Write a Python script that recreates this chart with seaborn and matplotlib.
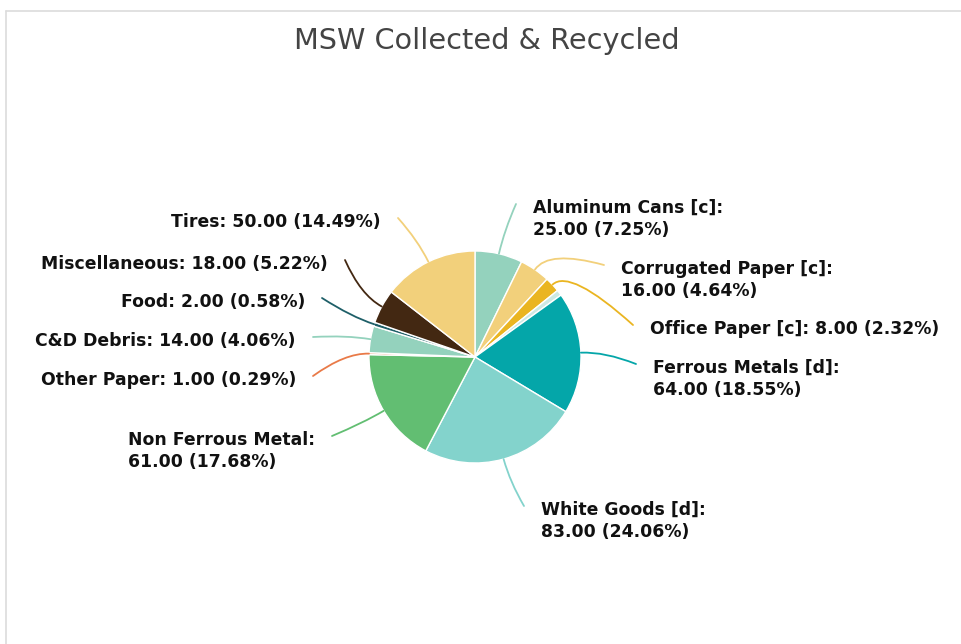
import numpy as np
import matplotlib
matplotlib.use("Agg")
import matplotlib.pyplot as plt
import seaborn as sns
from matplotlib.path import Path
from matplotlib.patches import PathPatch
from matplotlib.lines import Line2D

# ---- data ----
categories = ["Aluminum Cans [c]", "Corrugated Paper [c]", "Office Paper [c]", "",
              "Ferrous Metals [d]", "White Goods [d]", "Non Ferrous Metal",
              "Other Paper", "C&D Debris", "Food", "Miscellaneous", "Tires"]
values = [25, 16, 8, 3, 64, 83, 61, 1, 14, 2, 18, 50]
colors = ["#94d2bd", "#f2d07b", "#eab521", "#cde9e3", "#04a6a9", "#83d3cc",
          "#62be72", "#e97a48", "#94d2bd", "#1e5f68", "#432812", "#f2d07b"]
title = "MSW Collected & Recycled"

# ---- layout (pixels from top-left) ----
W, H = 962, 644
CX, CY, R = 475, 357, 106
# label: (x edge, y of first line center, side, two-line?)
label_layout = {
    "Aluminum Cans [c]": (533, 208, "L", True),
    "Corrugated Paper [c]": (621, 269, "L", True),
    "Office Paper [c]": (650, 329, "L", False),
    "Ferrous Metals [d]": (653, 368, "L", True),
    "White Goods [d]": (541, 510, "L", True),
    "Non Ferrous Metal": (315, 440, "R", True),
    "Other Paper": (296, 380, "R", False),
    "C&D Debris": (296, 341, "R", False),
    "Food": (305, 302, "R", False),
    "Miscellaneous": (328, 264, "R", False),
    "Tires": (381, 222, "R", False),
}
LINE_STEP = 22
FS = 12.4

sns.set_theme(style="white")
plt.rcParams["font.family"] = ["DejaVu Sans"]

fig = plt.figure(figsize=(W / 100, H / 100), dpi=100)
fig.patch.set_facecolor("white")
ax = fig.add_axes([0, 0, 1, 1])

# card border
fig.add_artist(Line2D([6 / W, 6 / W], [0, 1 - 11 / H], color="#dcdcdc", lw=1.2, transform=fig.transFigure))
fig.add_artist(Line2D([6 / W, 1], [1 - 11 / H, 1 - 11 / H], color="#dcdcdc", lw=1.2, transform=fig.transFigure))

wedges, _ = ax.pie(values, colors=colors, startangle=90, counterclock=False,
                   center=(CX, H - CY), radius=R,
                   wedgeprops=dict(edgecolor="white", linewidth=1.0))
ax.set_xlim(0, W)
ax.set_ylim(0, H)
ax.set_aspect("equal")
ax.axis("off")

total = sum(values)
for w, cat, val, col in zip(wedges, categories, values, colors):
    if not cat:
        continue
    mid = np.deg2rad((w.theta1 + w.theta2) / 2)
    ex, ey = CX + R * np.cos(mid), (H - CY) + R * np.sin(mid)
    cxp, cyp = CX + (R + 24) * np.cos(mid), (H - CY) + (R + 24) * np.sin(mid)
    tx, ty, side, two = label_layout[cat]
    pct = 100 * val / total
    if two:
        txt = f"{cat}:\n{val:.2f} ({pct:.2f}%)"
    else:
        txt = f"{cat}: {val:.2f} ({pct:.2f}%)"
    lx = tx - 17 if side == "L" else tx + 17
    ly = H - (ty - 4)
    path = Path([(ex, ey), (cxp, cyp), (lx, ly)], [Path.MOVETO, Path.CURVE3, Path.CURVE3])
    ax.add_patch(PathPatch(path, fill=False, edgecolor=col, lw=1.3, capstyle="round"))
    yc = H - (ty + (LINE_STEP / 2 if two else 0))
    ax.text(tx, yc, txt, ha="left" if side == "L" else "right", va="center",
            multialignment="left", fontsize=FS, fontweight="bold", color="#111111",
            linespacing=1.25)

fig.text(487 / W, 1 - 41 / H, title, ha="center", va="center", fontsize=20.7, color="#444444")

fig.savefig("out.png", dpi=100, facecolor="white")
